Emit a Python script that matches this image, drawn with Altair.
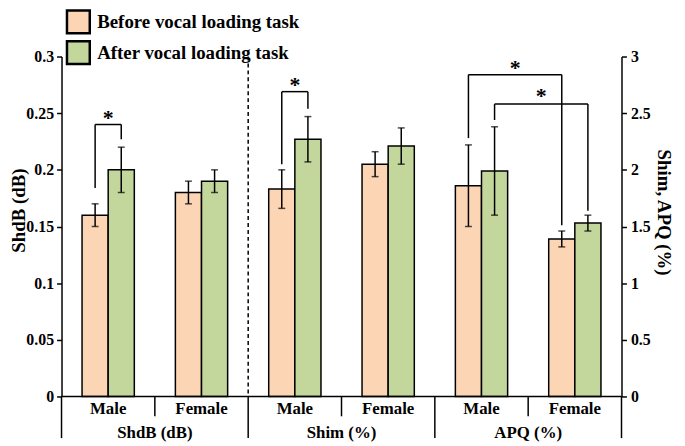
import altair as alt
import pandas as pd

measures = ["ShdB (dB)", "Shim (%)", "APQ (%)"]
sexes = ["Male", "Female"]
conditions = ["Before vocal loading task", "After vocal loading task"]
before_mean = [0.16, 0.18, 1.83, 2.05, 1.86, 1.39]
before_err = [0.01, 0.01, 0.17, 0.11, 0.36, 0.07]
after_mean = [0.20, 0.19, 2.27, 2.21, 1.99, 1.53]
after_err = [0.02, 0.01, 0.20, 0.16, 0.39, 0.07]

# significance brackets: leg A (group, condition, start), leg B, top, star height
sig_group_a = [0, 2, 4, 4]
sig_cond_a = [0, 0, 0, 1]
sig_start_a = [0.184, 2.05, 2.28, 2.44]
sig_group_b = [0, 2, 5, 5]
sig_cond_b = [1, 1, 0, 1]
sig_start_b = [0.227, 2.54, 1.51, 1.64]
sig_top = [0.240, 2.69, 2.84, 2.58]
sig_star = [0.247, 2.76, 2.91, 2.66]

FONT = "Liberation Serif"
COLORS = ["#FCD5B5", "#C3D69B"]
BW = 0.28  # bar width in group units


def cx(g, c):
    return g + 0.5 + (c - 0.5) * BW


rows = []
for g in range(6):
    for c, (means, errs) in enumerate([(before_mean, before_err), (after_mean, after_err)]):
        m, e = means[g], errs[g]
        rows.append(dict(g=g, cond=conditions[c], mean=m, base=0.0, lo=m - e, hi=m + e,
                         x0=cx(g, c) - BW / 2, x1=cx(g, c) + BW / 2, xc=cx(g, c),
                         side="L" if g < 2 else "R"))
bars = pd.DataFrame(rows)

legs, tops, stars = [], [], []
for i in range(len(sig_top)):
    side = "L" if sig_group_a[i] < 2 else "R"
    xa = cx(sig_group_a[i], sig_cond_a[i])
    xb = cx(sig_group_b[i], sig_cond_b[i])
    legs.append(dict(x=xa, y=sig_start_a[i], y2=sig_top[i], side=side))
    legs.append(dict(x=xb, y=sig_start_b[i], y2=sig_top[i], side=side))
    tops.append(dict(x=xa, x2=xb, y=sig_top[i], side=side))
    stars.append(dict(x=(xa + xb) / 2, y=sig_star[i], side=side, t="*"))
legs = pd.DataFrame(legs)
tops = pd.DataFrame(tops)
stars = pd.DataFrame(stars)

xscale = alt.Scale(domain=[0, 6], nice=False, zero=False)
color = alt.Color("cond:N", scale=alt.Scale(domain=conditions, range=COLORS),
                  legend=alt.Legend(title=None, orient="none", legendX=4, legendY=-48,
                                    symbolType="square", symbolSize=529,
                                    symbolStrokeColor="black", symbolStrokeWidth=2.5,
                                    labelFont=FONT, labelFontSize=19, labelFontWeight="bold",
                                    labelColor="black", labelOffset=6, rowPadding=-3,
                                    labelLimit=400))


def side_layer(side, domain, axis, title):
    ysc = alt.Scale(domain=domain, nice=False, zero=True)
    b = alt.Chart(bars[bars.side == side])
    l_bars = b.mark_bar(stroke="black", strokeWidth=1.5).encode(
        x=alt.X("x0:Q", scale=xscale, axis=None), x2="x1:Q",
        y=alt.Y("mean:Q", scale=ysc, axis=axis, title=title), y2="base:Q", color=color)
    l_err = b.mark_rule(color="black", strokeWidth=1.5).encode(
        x="xc:Q", y=alt.Y("lo:Q", title=title), y2="hi:Q")
    l_cap1 = b.mark_tick(color="black", orient="horizontal", size=7, thickness=1.5).encode(
        x="xc:Q", y=alt.Y("lo:Q", title=title))
    l_cap2 = b.mark_tick(color="black", orient="horizontal", size=7, thickness=1.5).encode(
        x="xc:Q", y=alt.Y("hi:Q", title=title))
    l_legs = alt.Chart(legs[legs.side == side]).mark_rule(color="black", strokeWidth=1.5).encode(
        x="x:Q", y=alt.Y("y:Q", title=title), y2="y2:Q")
    l_tops = alt.Chart(tops[tops.side == side]).mark_rule(color="black", strokeWidth=1.5).encode(
        x="x:Q", x2="x2:Q", y=alt.Y("y:Q", title=title))
    l_stars = alt.Chart(stars[stars.side == side]).mark_text(
        font=FONT, fontSize=22, fontWeight="bold", color="black", baseline="middle", dy=1).encode(
        x="x:Q", y=alt.Y("y:Q", title=title), text="t:N")
    return alt.layer(l_bars, l_err, l_cap1, l_cap2, l_legs, l_tops, l_stars)


axis_common = dict(grid=False, domainColor="black", domainWidth=1.5, tickColor="black",
                   tickWidth=1.5, tickSize=5, labelFont=FONT, labelFontSize=16,
                   labelFontWeight="bold", labelColor="black", titleFont=FONT,
                   titleFontSize=19, titleFontWeight="bold", titleColor="black", format="~g")
axis_L = alt.Axis(orient="left", values=[0, 0.05, 0.1, 0.15, 0.2, 0.25, 0.3],
                  titleX=-33, titleY=155, titleAngle=-90, labelPadding=3, **axis_common)
axis_R = alt.Axis(orient="right", values=[0, 0.5, 1, 1.5, 2, 2.5, 3],
                  titleX=32, titleY=157, titleAngle=90, labelPadding=4, **axis_common)

left = side_layer("L", [0, 0.3], axis_L, "ShdB (dB)")
right = side_layer("R", [0, 3], axis_R, "Shim, APQ (%)")

# x-axis decorations
H = 343
axline = pd.DataFrame(dict(x=[0], x2=[6]))
l_axline = alt.Chart(axline).mark_rule(color="black", strokeWidth=1.5).encode(
    x=alt.X("x:Q", scale=xscale, axis=None), x2="x2:Q", y=alt.value(H))
long_sep = pd.DataFrame(dict(x=[0, 2, 4, 6]))
short_sep = pd.DataFrame(dict(x=[1, 3, 5]))
l_long = alt.Chart(long_sep).mark_rule(color="black", strokeWidth=1.5).encode(
    x="x:Q", y=alt.value(H), y2=alt.value(H + 42))
l_short = alt.Chart(short_sep).mark_rule(color="black", strokeWidth=1.5).encode(
    x="x:Q", y=alt.value(H), y2=alt.value(H + 20))
dash = pd.DataFrame(dict(x=[2]))
l_dash = alt.Chart(dash).mark_rule(color="black", strokeWidth=1.5, strokeDash=[4, 3]).encode(
    x="x:Q", y=alt.value(0), y2=alt.value(H))
cat_labels = pd.DataFrame(dict(x=[g + 0.5 for g in range(6)], t=[sexes[g % 2] for g in range(6)]))
grp_labels = pd.DataFrame(dict(x=[2 * k + 1 for k in range(3)], t=measures))
l_cat = alt.Chart(cat_labels).mark_text(font=FONT, fontSize=17, fontWeight="bold", color="black",
                                        baseline="middle").encode(
    x="x:Q", y=alt.value(H + 13), text="t:N")
l_grp = alt.Chart(grp_labels).mark_text(font=FONT, fontSize=17, fontWeight="bold", color="black",
                                        baseline="middle").encode(
    x="x:Q", y=alt.value(H + 37), text="t:N")
extras = alt.layer(l_axline, l_long, l_short, l_dash, l_cat, l_grp)

chart = alt.layer(left, right, extras).resolve_scale(y="independent").properties(
    width=565, height=H,
    autosize=alt.AutoSizeParams(type="none"),
    padding={"left": 54, "top": 47, "right": 56, "bottom": 46},
).configure_view(stroke=None)

chart.save("out.html", embed_options={"renderer": "svg", "actions": False})
